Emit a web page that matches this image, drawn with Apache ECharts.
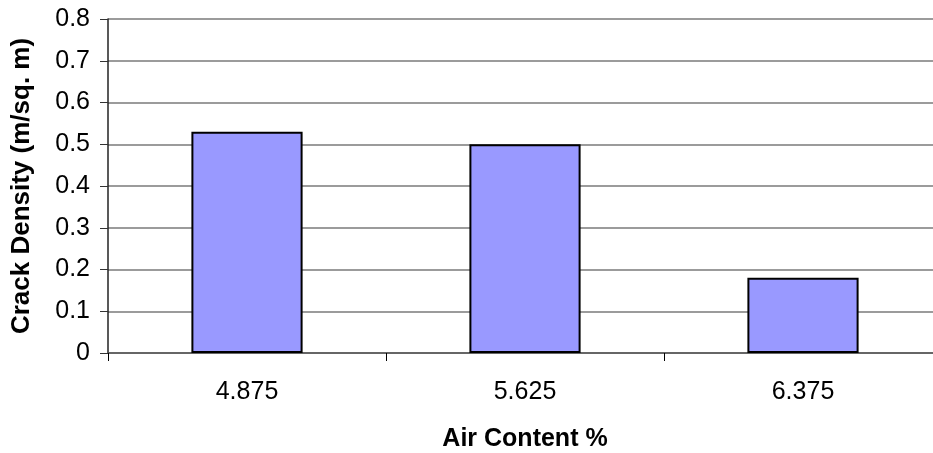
<!DOCTYPE html>
<html>
<head>
<meta charset="utf-8">
<script src="https://cdn.jsdelivr.net/npm/echarts@6/dist/echarts.min.js"></script>
<style>
  html, body { margin: 0; padding: 0; background: #fff; }
  #chart { width: 933px; height: 453px; }
</style>
</head>
<body>
<div id="chart"></div>
<script>
// Crack density measured at each air-content level
const airContent = ['4.875', '5.625', '6.375'];
const crackDensity = [0.53, 0.50, 0.18];
const yTicks = [0, 0.1, 0.2, 0.3, 0.4, 0.5, 0.6, 0.7, 0.8];

const FONT = '"Liberation Sans", Arial, sans-serif';

const chart = echarts.init(document.getElementById('chart'), null, { renderer: 'canvas' });

chart.setOption({
  animation: false,
  backgroundColor: '#ffffff',
  grid: {
    left: 108, top: 19, width: 834, height: 334,
    containLabel: false, outerBoundsMode: 'none'
  },
  xAxis: {
    type: 'category',
    data: airContent,
    name: 'Air Content %',
    nameLocation: 'middle',
    nameGap: 74,
    nameTextStyle: { fontFamily: FONT, fontSize: 25, fontWeight: 'bold', color: '#000' },
    axisLine: { show: true, lineStyle: { color: '#555555', width: 1.5 } },
    axisTick: { show: true, length: 8, lineStyle: { color: '#000', width: 1 } },
    axisLabel: { fontFamily: FONT, fontSize: 25, color: '#000', margin: 27 },
    splitLine: { show: false }
  },
  yAxis: {
    type: 'value',
    min: yTicks[0],
    max: yTicks[yTicks.length - 1],
    interval: 0.1,
    name: 'Crack Density (m/sq. m)',
    nameLocation: 'middle',
    nameGap: 73,
    nameRotate: 90,
    nameTextStyle: { fontFamily: FONT, fontSize: 26, fontWeight: 'bold', color: '#000' },
    axisLine: { show: true, lineStyle: { color: '#222222', width: 1.5 } },
    axisTick: { show: true, length: 8, lineStyle: { color: '#333333', width: 1 } },
    axisLabel: {
      fontFamily: FONT, fontSize: 25, color: '#000', margin: 18,
      formatter: v => (Math.round(v * 10) / 10).toString()
    },
    splitLine: { show: true, lineStyle: { color: '#7a7a7a', width: 1.5 } }
  },
  series: [{
    type: 'bar',
    data: crackDensity,
    barWidth: '40%',
    itemStyle: { color: '#9999ff', borderColor: '#000000', borderWidth: 2 }
  }]
});
</script>
</body>
</html>
